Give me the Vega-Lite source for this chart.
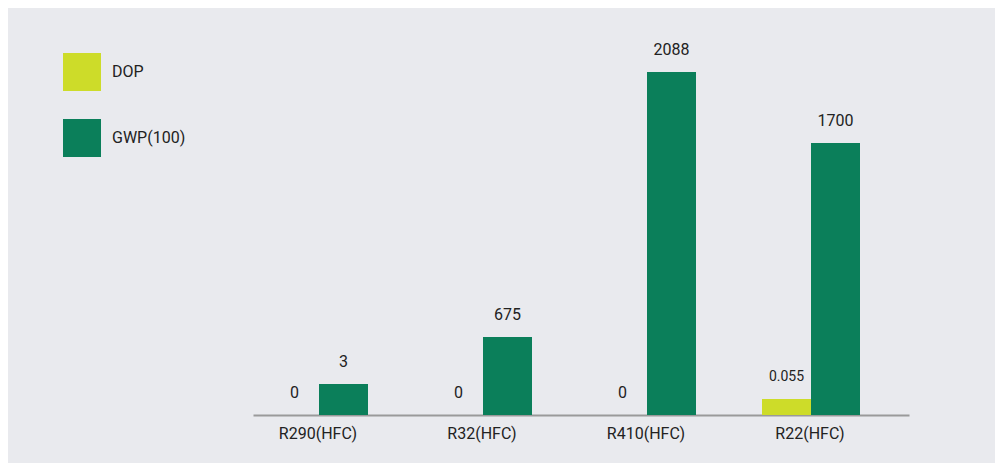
{
  "$schema": "https://vega.github.io/schema/vega-lite/v6.json",
  "autosize": "none",
  "width": 987,
  "height": 455,
  "padding": {"left": 8, "top": 8, "right": 0, "bottom": 0},
  "background": "#ffffff",
  "config": {
    "view": {"stroke": null, "fill": "#e9eaee"},
    "font": "Roboto",
    "text": {"font": "Roboto", "color": "#222222"}
  },
  "data": {
    "values": [
      {"refrigerant": "R290(HFC)", "measure": "DOP", "value": 0},
      {"refrigerant": "R290(HFC)", "measure": "GWP(100)", "value": 3},
      {"refrigerant": "R32(HFC)", "measure": "DOP", "value": 0},
      {"refrigerant": "R32(HFC)", "measure": "GWP(100)", "value": 675},
      {"refrigerant": "R410(HFC)", "measure": "DOP", "value": 0},
      {"refrigerant": "R410(HFC)", "measure": "GWP(100)", "value": 2088},
      {"refrigerant": "R22(HFC)", "measure": "DOP", "value": 0.055},
      {"refrigerant": "R22(HFC)", "measure": "GWP(100)", "value": 1700}
    ]
  },
  "encoding": {
    "x": {
      "field": "refrigerant",
      "type": "nominal",
      "sort": ["R290(HFC)", "R32(HFC)", "R410(HFC)", "R22(HFC)"],
      "scale": {"range": [245, 901], "paddingInner": 0, "paddingOuter": 0},
      "axis": {
        "title": null,
        "labelAngle": 0,
        "ticks": false,
        "grid": false,
        "domainColor": "#9a9a9a",
        "domainWidth": 2,
        "offset": -48,
        "labelPadding": 10,
        "labelOffset": -17,
        "labelFont": "Roboto",
        "labelFontSize": 16,
        "labelColor": "#222222"
      }
    },
    "xOffset": {
      "field": "measure",
      "type": "nominal",
      "sort": ["DOP", "GWP(100)"],
      "scale": {"paddingInner": 0, "paddingOuter": 0.6735, "align": 0.2576}
    },
    "y": {
      "field": "value",
      "type": "quantitative",
      "scale": {
        "type": "linear",
        "domain": [0, 0.055, 3, 675, 1700, 2088],
        "range": [407, 391, 376, 329, 135, 64],
        "zero": false,
        "nice": false
      },
      "axis": null
    }
  },
  "layer": [
    {
      "mark": {"type": "bar"},
      "encoding": {
        "color": {
          "field": "measure",
          "type": "nominal",
          "scale": {"domain": ["DOP", "GWP(100)"], "range": ["#cddc29", "#0b7f5a"]},
          "legend": {
            "title": null,
            "orient": "none",
            "legendX": 55,
            "legendY": 45,
            "padding": 0,
            "symbolType": "square",
            "symbolSize": 1444,
            "symbolStrokeWidth": 0,
            "symbolOpacity": 1,
            "labelFont": "Roboto",
            "labelFontSize": 16,
            "labelColor": "#222222",
            "labelOffset": 11,
            "rowPadding": 28
          }
        }
      }
    },
    {
      "mark": {"type": "text", "baseline": "middle", "dy": -22, "font": "Roboto"},
      "encoding": {
        "text": {"field": "value", "type": "quantitative", "format": "~g"},
        "size": {
          "condition": {"test": "datum.value > 0 && datum.measure == 'DOP'", "value": 14},
          "value": 16
        }
      }
    }
  ]
}
